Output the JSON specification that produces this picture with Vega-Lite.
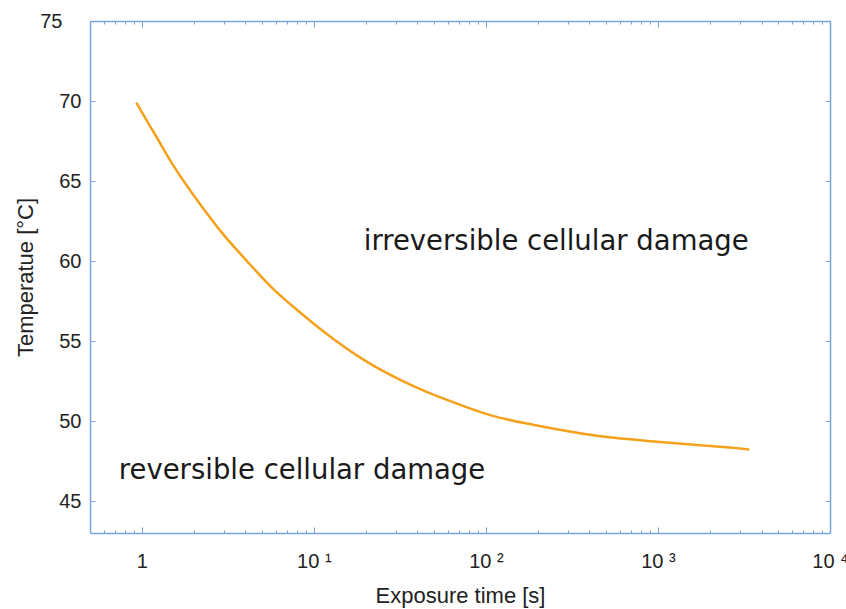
{
  "$schema": "https://vega.github.io/schema/vega-lite/v6.json",
  "width": 740,
  "height": 512,
  "autosize": {"type": "none"},
  "padding": {"left": 90, "top": 21, "right": 16, "bottom": 76},
  "background": "white",
  "config": {
    "view": {"stroke": null},
    "axis": {
      "domainColor": "#7aa3e3",
      "domainWidth": 1.5,
      "tickColor": "#7aa3e3",
      "tickWidth": 1,
      "grid": false,
      "labelFont": "Liberation Sans",
      "labelColor": "#222222",
      "labelFontSize": 20,
      "titleFont": "Liberation Sans",
      "titleColor": "#222222",
      "titleFontSize": 22,
      "titleFontWeight": "normal"
    }
  },
  "datasets": {
    "curve": [
      {"t": 0.93, "temp": 69.9},
      {"t": 1.0, "temp": 69.3},
      {"t": 1.18, "temp": 68.0},
      {"t": 1.54, "temp": 65.9},
      {"t": 2.2, "temp": 63.5},
      {"t": 2.88, "temp": 61.85},
      {"t": 4.12, "temp": 59.95},
      {"t": 5.88, "temp": 58.2},
      {"t": 8.4, "temp": 56.75},
      {"t": 11.0, "temp": 55.72},
      {"t": 20.5, "temp": 53.68},
      {"t": 32, "temp": 52.56},
      {"t": 41.9, "temp": 51.98},
      {"t": 60, "temp": 51.3},
      {"t": 107, "temp": 50.35},
      {"t": 191, "temp": 49.75},
      {"t": 326, "temp": 49.3},
      {"t": 557, "temp": 48.95},
      {"t": 951, "temp": 48.72},
      {"t": 1626, "temp": 48.52},
      {"t": 2780, "temp": 48.32},
      {"t": 3396, "temp": 48.22}
    ],
    "notes": [
      {"t": 19.5, "temp": 61.2, "label": "irreversible cellular damage"},
      {"t": 0.735, "temp": 46.9, "label": "reversible cellular damage"}
    ]
  },
  "resolve": {"axis": {"x": "independent", "y": "independent"}},
  "layer": [
    {
      "data": {"name": "curve"},
      "mark": {"type": "line", "color": "#f5a11c", "strokeWidth": 2.5, "interpolate": "monotone"},
      "encoding": {
        "x": {
          "field": "t", "type": "quantitative",
          "scale": {"type": "log", "domain": [0.5, 10000], "nice": false},
          "axis": {
            "orient": "bottom",
            "title": "Exposure time [s]",
            "titleBaseline": "middle",
            "titleY": 62,
            "values": [0.6,0.7,0.8,0.9,1,2,3,4,5,6,7,8,9,10,20,30,40,50,60,70,80,90,100,200,300,400,500,600,700,800,900,1000,2000,3000,4000,5000,6000,7000,8000,9000,10000],
            "labelExpr": "datum.value==1?'1':(datum.value==10?'10 ¹':(datum.value==100?'10 ²':(datum.value==1000?'10 ³':(datum.value==10000?'10 ⁴':''))))",
            "labelPadding": 24,
            "labelFlush": false,
            "labelOverlap": false,
            "tickSize": {"condition": {"test": "indexof([1,10,100,1000,10000], datum.value) >= 0", "value": -6}, "value": -3}
          }
        },
        "y": {
          "field": "temp", "type": "quantitative",
          "scale": {"domain": [43, 75], "nice": false, "zero": false},
          "axis": {
            "orient": "left",
            "title": "Temperatue [°C]",
            "titleBaseline": "middle",
            "titleX": -65,
            "values": [45, 50, 55, 60, 65, 70, 75],
            "labelPadding": {"condition": {"test": "datum.value == 75", "value": 33}, "value": 14},
            "tickSize": -5
          }
        }
      }
    },
    {
      "data": {"name": "notes"},
      "mark": {"type": "text", "align": "left", "baseline": "middle", "font": "DejaVu Sans", "fontSize": 27.5, "color": "#1a1a1a"},
      "encoding": {
        "x": {"field": "t", "type": "quantitative", "axis": {"orient": "top", "title": null, "labels": false, "values": [0.6,0.7,0.8,0.9,1,2,3,4,5,6,7,8,9,10,20,30,40,50,60,70,80,90,100,200,300,400,500,600,700,800,900,1000,2000,3000,4000,5000,6000,7000,8000,9000,10000], "tickSize": {"condition": {"test": "indexof([1,10,100,1000,10000], datum.value) >= 0", "value": -6}, "value": -3}}},
        "y": {"field": "temp", "type": "quantitative", "axis": {"orient": "right", "title": null, "labels": false, "values": [45, 50, 55, 60, 65, 70, 75], "tickSize": -5}},
        "text": {"field": "label"}
      }
    }
  ]
}
